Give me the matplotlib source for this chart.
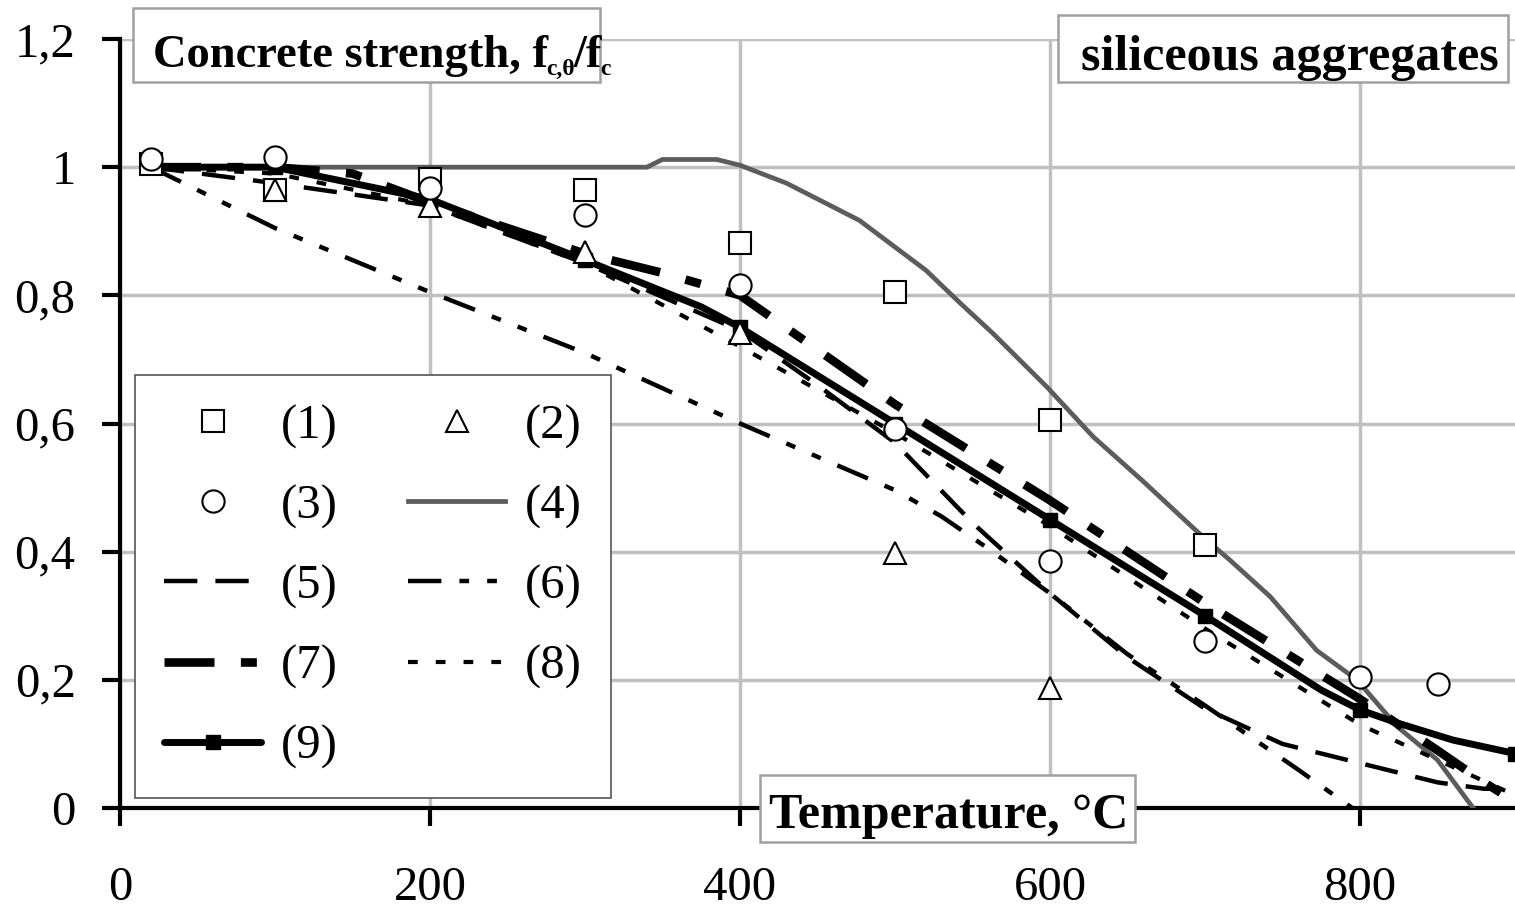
import numpy as np
import matplotlib
matplotlib.use("Agg")
import matplotlib.pyplot as plt
from matplotlib.patches import Rectangle
from matplotlib.text import Annotation

plt.rcParams['font.family'] = ['Liberation Serif', 'DejaVu Serif']
plt.rcParams['lines.scale_dashes'] = False

# test data (markers)
t1 = [20, 100, 200, 300, 400, 500, 600, 700]
s1 = [1.005, 0.965, 0.982, 0.964, 0.882, 0.805, 0.605, 0.41]
t2 = [100, 200, 300, 400, 500, 600]
s2 = [0.965, 0.94, 0.867, 0.741, 0.398, 0.188]
t3 = [20, 100, 200, 300, 400, 500, 600, 700, 800, 850]
s3 = [1.012, 1.016, 0.967, 0.925, 0.816, 0.592, 0.385, 0.26, 0.204, 0.194]

# model curves
t4 = [20, 340, 350, 385, 400, 430, 477, 520, 542, 563, 598, 628, 660, 700, 716, 742, 772, 798, 824, 850, 873]
s4 = [1.0, 1.0, 1.012, 1.012, 1.003, 0.975, 0.917, 0.839, 0.788, 0.741, 0.657, 0.579, 0.51, 0.42, 0.387, 0.33, 0.246, 0.2, 0.127, 0.075, 0.0]
t5 = [20, 100, 200, 300, 400, 450, 500, 550, 600, 650, 700, 750, 800, 850, 880, 900]
s5 = [1.0, 0.975, 0.94, 0.85, 0.745, 0.66, 0.57, 0.445, 0.335, 0.235, 0.155, 0.10, 0.07, 0.04, 0.03, 0.03]
t6 = [20, 100, 200, 300, 400, 500, 530, 560, 600, 650, 700, 730, 760, 795]
s6 = [1.0, 0.905, 0.805, 0.71, 0.60, 0.496, 0.455, 0.405, 0.335, 0.24, 0.16, 0.11, 0.06, 0.0]
t7 = [20, 100, 150, 200, 300, 350, 400, 500, 600, 700, 800, 850, 880, 900]
s7 = [1.0, 1.0, 0.99, 0.945, 0.865, 0.835, 0.80, 0.63, 0.48, 0.32, 0.17, 0.09, 0.04, 0.01]
t8 = [20, 100, 200, 300, 400, 500, 600, 700, 800, 900]
s8 = [1.0, 0.99, 0.94, 0.85, 0.72, 0.585, 0.44, 0.28, 0.13, 0.02]
t9 = [20, 100, 200, 300, 375, 400, 500, 600, 700, 775, 800, 825, 860, 900]
s9 = [1.0, 1.0, 0.95, 0.855, 0.782, 0.75, 0.60, 0.45, 0.30, 0.184, 0.153, 0.132, 0.106, 0.085]

xticks = [0, 200, 400, 600, 800]
yticks = [0, 0.2, 0.4, 0.6, 0.8, 1.0, 1.2]
ylabels = ["0", "0,2", "0,4", "0,6", "0,8", "1", "1,2"]

W, H = 1515, 910
fig = plt.figure(figsize=(W / 100, H / 100), dpi=100)
ax = fig.add_axes([120 / W, 1 - 808 / H, 1395 / W, 769 / H])

mk = dict(ls='none', ms=16, mfc='white', mec='black', mew=1.5, zorder=4)
h1, = ax.plot(t1, s1, marker='s', label='(1)', **mk)
h2, = ax.plot(t2, s2, marker='^', label='(2)', **mk)
h3, = ax.plot(t3, s3, marker='o', label='(3)', **mk)
h4, = ax.plot(t4, s4, color='#5c5c5c', lw=3.4, label='(4)', zorder=3)
h5, = ax.plot(t5, s5, color='black', lw=3.2, dashes=(24, 13), label='(5)', zorder=3)
h6, = ax.plot(t6, s6, color='black', lw=3.2, dashes=(24, 13, 7, 13, 7, 13), label='(6)', zorder=3)
h7, = ax.plot(t7, s7, color='black', lw=6.2, dashes=(36, 19, 11.5, 19), label='(7)', zorder=3)
h8, = ax.plot(t8, s8, color='black', lw=3.0, dashes=(7, 13), label='(8)', zorder=3)
mev = [i for i, t in enumerate(t9) if t % 100 == 0 or t == 20]
h9, = ax.plot(t9, s9, color='black', lw=5, marker='s', ms=9.5, markevery=mev,
              solid_capstyle='round', label='(9)', zorder=3)

ax.set_xlim(0, 900)
ax.set_ylim(0, 1.2)
ax.set_xticks(xticks)
ax.set_yticks(yticks)
ax.set_yticklabels(ylabels)
ax.tick_params(axis='both', direction='out', length=13, width=3, color='black', labelsize=35)
ax.tick_params(axis='x', pad=29)
ax.tick_params(axis='y', pad=19)
ax.grid(color='#c0c0c0', lw=2.5)
ax.set_axisbelow(True)
for s in ['top', 'right']:
    ax.spines[s].set_visible(False)
for s in ['left', 'bottom']:
    ax.spines[s].set_linewidth(3)
    ax.spines[s].set_color('black')

handles = [h1, h3, h5, h7, h9, h2, h4, h6, h8]
leg = ax.legend(handles, [h.get_label() for h in handles], ncol=2, loc='upper left',
                bbox_to_anchor=(15 / 1395, 433 / 769), borderaxespad=0, fontsize=35,
                handlelength=2.0, handletextpad=0.4, columnspacing=1.45, labelspacing=0.735,
                borderpad=0.6, fancybox=False, edgecolor='#555555', framealpha=1, numpoints=1)
leg.get_frame().set_linewidth(1.2)


def label_box(x0, y0, x1, y1):
    fig.add_artist(Rectangle((x0 / W, 1 - y1 / H), (x1 - x0) / W, (y1 - y0) / H,
                             transform=fig.transFigure, fc='white', ec='#a0a0a0', lw=1.8, zorder=6))


bold = dict(fontweight='bold', zorder=7)

# y-axis title with hand-set subscripts
label_box(133, 8, 600, 82)
t0 = fig.text(153 / W, 1 - 67 / H, "Concrete strength, f", fontsize=33.5, ha='left', va='baseline', **bold)
a1 = fig.add_artist(Annotation("c,θ", xy=(1, 0), xycoords=t0, xytext=(-1, -2), textcoords='offset points',
                               fontsize=17, ha='left', va='bottom', **bold))
a2 = fig.add_artist(Annotation("/f", xy=(1, 0), xycoords=(a1, t0), xytext=(-1.5, 0), textcoords='offset points',
                               fontsize=33.5, ha='left', va='bottom', **bold))
a3 = fig.add_artist(Annotation("c", xy=(1, 0), xycoords=(a2, t0), xytext=(-1, -2), textcoords='offset points',
                               fontsize=17, ha='left', va='bottom', **bold))

label_box(1058, 15, 1508, 82)
fig.text(1290 / W, 1 - 70 / H, "siliceous aggregates", fontsize=36, ha='center', va='baseline', **bold)

label_box(760, 775, 1135, 842)
fig.text(949 / W, 1 - 828 / H, "Temperature, °C", fontsize=36, ha='center', va='baseline', **bold)

fig.savefig("out.png", dpi=100)
